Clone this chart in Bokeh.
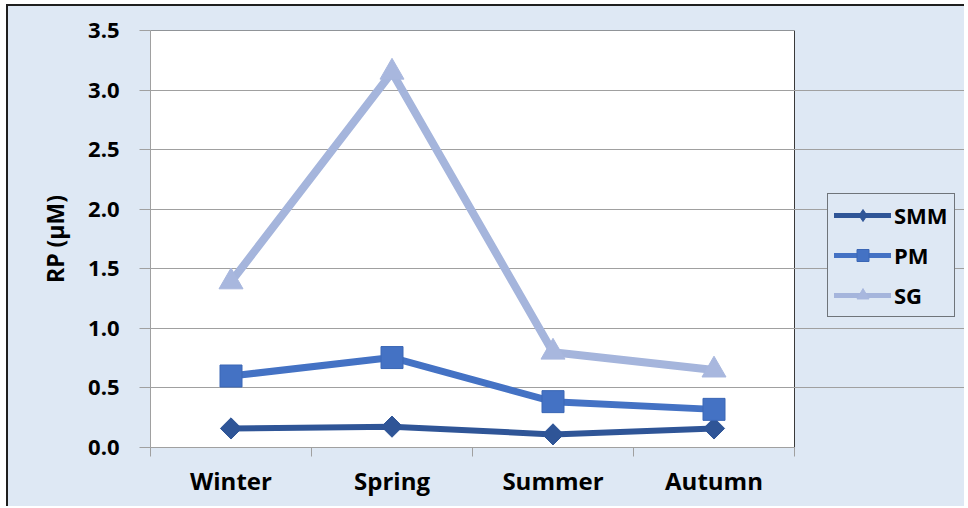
import math
from bokeh.plotting import figure
from bokeh.models import FixedTicker, Legend, LegendItem, Range1d, PrintfTickFormatter
from bokeh.embed import file_html
from bokeh.resources import INLINE

seasons = ["Winter", "Spring", "Summer", "Autumn"]
smm = [0.16, 0.175, 0.11, 0.16]
pm = [0.60, 0.755, 0.385, 0.32]
sg = [1.39, 3.15, 0.80, 0.65]
y_ticks = [0.0, 0.5, 1.0, 1.5, 2.0, 2.5, 3.0, 3.5]
series_names = ["SMM", "PM", "SG"]

n = len(seasons)
x = [i + 0.5 for i in range(n)]
bounds = list(range(n + 1))

FONT = "Open Sans"
GRID = "#A0A0A0"
BG = "#DEE8F4"

# layout (pixels): plot area 644 px wide inside a frame of 816 px
W, H = 958, 502
LEFT, TOP, BOTTOM = 142, 24, 61
AREA_W = 644
frame_w = W - LEFT
x_end = n * frame_w / AREA_W

p = figure(width=W, height=H, output_backend="svg", toolbar_location=None,
           x_range=Range1d(0, x_end), y_range=Range1d(0, y_ticks[-1]),
           min_border_left=LEFT, min_border_right=0, min_border_top=TOP, min_border_bottom=BOTTOM)
p.background_fill_color = BG
p.border_fill_color = BG
p.outline_line_color = None
p.outline_line_alpha = 0
p.styles = {"margin-left": "6px", "margin-top": "4px", "background-color": BG,
            "border-top": "2px solid #1f1f1f", "border-left": "2px solid #1f1f1f"}

# plot area (white) with border
p.quad(left=0, right=n, bottom=0, top=y_ticks[-1], fill_color="white",
       line_color="#3a3a3a", line_width=1, level="image")

# y axis
p.yaxis.ticker = FixedTicker(ticks=y_ticks)
p.yaxis.formatter = PrintfTickFormatter(format="%.1f")
p.yaxis.axis_line_color = GRID
p.yaxis.major_tick_line_color = GRID
p.yaxis.major_tick_out = 11
p.yaxis.major_tick_in = 0
p.yaxis.minor_tick_line_color = None
p.yaxis.major_label_standoff = 20
p.yaxis.major_label_text_font = FONT
p.yaxis.major_label_text_font_style = "bold"
p.yaxis.major_label_text_font_size = "22px"
p.yaxis.major_label_text_color = "black"
p.yaxis.axis_label = "RP (μM)"
p.yaxis.axis_label_text_font = FONT
p.yaxis.axis_label_text_font_style = "bold"
p.yaxis.axis_label_text_font_size = "23px"
p.yaxis.axis_label_text_color = "black"
p.yaxis.axis_label_standoff = 14

# x axis
p.xaxis.ticker = FixedTicker(ticks=x, minor_ticks=bounds)
p.xaxis.major_label_overrides = {xi: s for xi, s in zip(x, seasons)}
p.xaxis.bounds = (0, n)
p.xaxis.axis_line_color = GRID
p.xaxis.major_tick_out = 0
p.xaxis.major_tick_in = 0
p.xaxis.major_tick_line_color = None
p.xaxis.minor_tick_out = 9
p.xaxis.minor_tick_in = 0
p.xaxis.minor_tick_line_color = GRID
p.xaxis.major_label_standoff = 7
p.xaxis.major_label_text_font = FONT
p.xaxis.major_label_text_font_style = "bold"
p.xaxis.major_label_text_font_size = "24px"
p.xaxis.major_label_text_color = "black"

p.xgrid.grid_line_color = None
p.ygrid.ticker = FixedTicker(ticks=y_ticks)
p.ygrid.bounds = (0, n)
p.ygrid.grid_line_color = GRID
p.ygrid.grid_line_width = 1

colors = ["#2F5597", "#4472C4", "#A5B5DC"]
widths = [6, 7, 8]
values = [smm, pm, sg]
items = []
for name, vals, c, w in zip(series_names, values, colors, widths):
    p.line(x, vals, line_color=c, line_width=w, line_join="round", line_cap="round")
    if name == "SMM":
        p.scatter(x, vals, marker="square", size=15, angle=math.pi / 4,
                  fill_color=c, line_color=c)
        leg = p.scatter(x, vals, marker="diamond", size=15, fill_color=c, line_color=c,
                        visible=False)
    elif name == "PM":
        p.scatter(x, vals, marker="square", size=22, fill_color=c, line_color="#3A66B5")
        leg = p.scatter(x, vals, marker="square", size=15, fill_color=c, line_color="#3A66B5",
                        visible=False)
    else:
        p.scatter(x, vals, marker="triangle", size=24, fill_color="#A8B7DE", line_color="#A8B7DE")
        leg = p.scatter(x, vals, marker="triangle", size=16, fill_color="#A8B7DE",
                        line_color="#A8B7DE", visible=False)
    lleg = p.line(x, vals, line_color=c, line_width=5, line_cap="round", visible=False)
    items.append(LegendItem(label=name, renderers=[lleg, leg]))

legend = Legend(items=items, location=(677, 130), orientation="vertical",
                glyph_width=57, glyph_height=30, spacing=10, padding=6, margin=0,
                label_standoff=3,
                label_text_font=FONT, label_text_font_style="bold",
                label_text_font_size="22px", label_text_color="black",
                border_line_color="black", border_line_width=1,
                background_fill_color=BG, background_fill_alpha=1,
                inactive_fill_alpha=0)
p.add_layout(legend, "center")

open("out.html", "w").write(file_html(p, INLINE))
